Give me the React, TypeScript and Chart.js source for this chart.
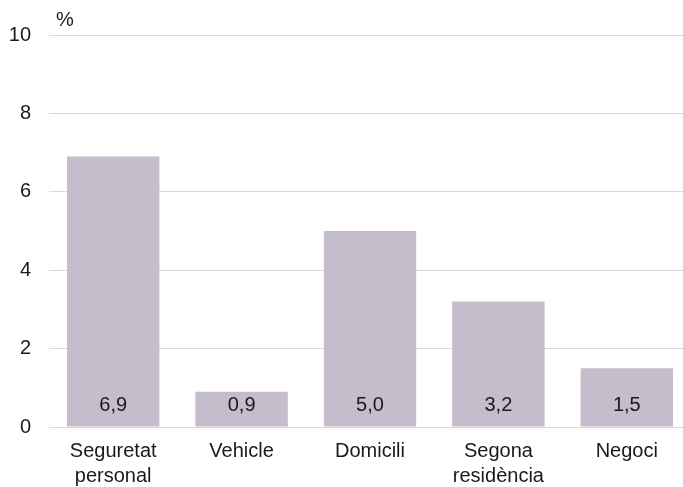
import React, { useEffect, useRef } from "react";
import { Chart, registerables } from "chart.js";

Chart.register(...registerables);

const categories: string[][] = [["Seguretat", "personal"], ["Vehicle"], ["Domicili"], ["Segona", "residència"], ["Negoci"]];
const values: number[] = [6.9, 0.9, 5.0, 3.2, 1.5];
const valueLabels: string[] = ["6,9", "0,9", "5,0", "3,2", "1,5"];
const yTicks: number[] = [0, 2, 4, 6, 8, 10];
const unitLabel = "%";

const FONT = "'Liberation Sans', Arial, sans-serif";

const labelPlugin = {
  id: "labels",
  afterDatasetsDraw(chart: any) {
    const ctx = chart.ctx;
    const meta = chart.getDatasetMeta(0);
    const yScale = chart.scales.y;
    ctx.save();
    ctx.font = `20px ${FONT}`;
    ctx.fillStyle = "#1a1a1a";
    ctx.textAlign = "center";
    ctx.textBaseline = "middle";
    meta.data.forEach((bar: any, i: number) => {
      ctx.fillText(valueLabels[i], bar.x, yScale.getPixelForValue(0) - 22);
    });
    ctx.textAlign = "left";
    ctx.fillText(unitLabel, 56, 20);
    ctx.restore();
  },
};

export default function App() {
  const ref = useRef<HTMLCanvasElement>(null);
  useEffect(() => {
    const chart = new Chart(ref.current!, {
      type: "bar",
      data: {
        labels: categories,
        datasets: [
          {
            data: values,
            backgroundColor: "#c5bdcb",
            categoryPercentage: 1,
            barPercentage: 0.72,
          },
        ],
      },
      options: {
        animation: false,
        responsive: false,
        maintainAspectRatio: false,
        layout: { padding: { top: 35, right: 0, left: 0, bottom: 0 } },
        plugins: { legend: { display: false }, tooltip: { enabled: false } },
        scales: {
          x: {
            grid: { display: false },
            border: { color: "#d9d9d9", width: 1 },
            ticks: { font: { family: FONT, size: 20, lineHeight: 1.25 }, color: "#1a1a1a", padding: 4, maxRotation: 0, autoSkip: false },
            afterFit: (s: any) => { s.height = 60; },
          },
          y: {
            min: 0,
            max: 10,
            afterBuildTicks: (s: any) => { s.ticks = yTicks.map((v) => ({ value: v })); },
            grid: { color: "#d9d9d9", drawTicks: false, lineWidth: 1 },
            border: { display: false },
            ticks: { font: { family: FONT, size: 20 }, color: "#1a1a1a", padding: 18 },
            afterFit: (s: any) => { s.width = 49; },
          },
        },
      },
      plugins: [labelPlugin],
    });
    return () => chart.destroy();
  }, []);
  return (
    <div style={{ position: "absolute", left: 0, top: 0, width: 683, height: 487, overflow: "hidden", background: "#fff" }}>
      <canvas ref={ref} width={691} height={487} style={{ width: 691, height: 487, display: "block" }} />
    </div>
  );
}
